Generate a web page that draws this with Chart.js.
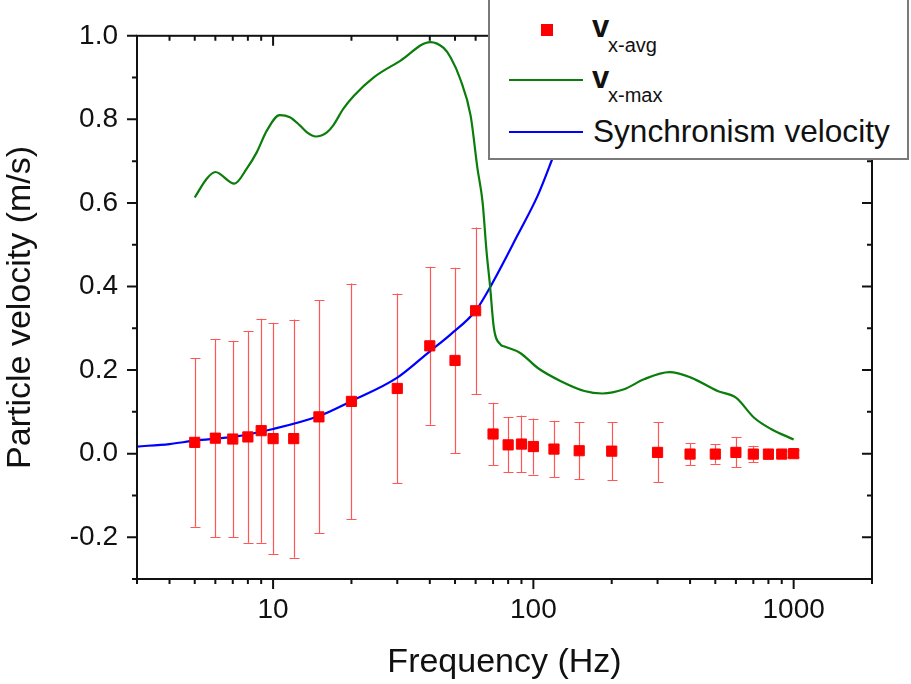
<!DOCTYPE html>
<html>
<head>
<meta charset="utf-8">
<script src="https://cdn.jsdelivr.net/npm/chart.js@4/dist/chart.umd.min.js"></script>
<style>
  html, body { margin: 0; padding: 0; background: #fff; }
  #wrap { position: relative; width: 911px; height: 684px; overflow: hidden; }
  canvas { position: absolute; left: 0; top: 0; }
  #legend { position: absolute; left: 488px; top: -2px; width: 421px; height: 162px;
            border: 2px solid #7a7a7a; background: #fff; box-sizing: border-box;
            font-family: "Liberation Sans", Arial, sans-serif; color: #111; }
  #legend div { position: absolute; line-height: 1; white-space: nowrap; }
  .mk { position: absolute; }
</style>
</head>
<body>
<div id="wrap">
  <canvas id="c" width="911" height="684"></canvas>
  <div id="legend">
    <div class="mk" style="left:51px;top:24px;width:12px;height:12px;background:#ff0000;"></div>
    <div style="left:102px;top:11px;font-size:31px;font-weight:bold;">v</div>
    <div style="left:118px;top:35px;font-size:20px;">x-avg</div>
    <div class="mk" style="left:19px;top:79px;width:74px;height:2px;background:#0a7d0a;"></div>
    <div style="left:102px;top:62px;font-size:31px;font-weight:bold;">v</div>
    <div style="left:118px;top:85px;font-size:20px;">x-max</div>
    <div class="mk" style="left:19px;top:131px;width:74px;height:2px;background:#0000ff;"></div>
    <div style="left:103px;top:116px;font-size:31.6px;">Synchronism velocity</div>
  </div>
</div>
<script>
// ---- data ----
const freqAvg = [5, 6, 7, 8, 9, 10, 12, 15, 20, 30, 40, 50, 60, 70, 80, 90, 100, 120, 150, 200, 300, 400, 500, 600, 700, 800, 900, 1000];
const vxAvg   = [0.027, 0.037, 0.035, 0.040, 0.055, 0.036, 0.036, 0.088, 0.125, 0.156, 0.258, 0.223, 0.342, 0.047, 0.021, 0.023, 0.017, 0.011, 0.007, 0.006, 0.003, -0.001, -0.001, 0.003, -0.001, -0.001, -0.001, 0.000];
const vxAvgErr = [0.202, 0.237, 0.235, 0.253, 0.268, 0.277, 0.285, 0.279, 0.282, 0.227, 0.189, 0.222, 0.199, 0.075, 0.066, 0.068, 0.067, 0.068, 0.068, 0.069, 0.072, 0.026, 0.023, 0.036, 0.020, 0.013, 0.008, 0.008];

const freqMax = [5, 5.56, 6.0, 7.1, 7.92, 8.65, 9.46, 10.6, 11.6, 12.7, 13.5, 14.6, 16.1, 17, 18.6, 20.4, 24.3, 30.8, 40.2, 45.2, 48.1, 52.4, 57.4, 61, 63.8, 66.1, 68.1, 70.5, 74.8, 77, 89, 104, 127, 157, 184, 223, 266, 333, 403, 510, 600, 705, 818, 1000];
const vxMax   = [0.613, 0.658, 0.674, 0.646, 0.682, 0.721, 0.773, 0.810, 0.805, 0.785, 0.769, 0.759, 0.769, 0.785, 0.825, 0.856, 0.900, 0.940, 0.985, 0.971, 0.948, 0.896, 0.809, 0.682, 0.602, 0.483, 0.404, 0.301, 0.261, 0.257, 0.241, 0.205, 0.174, 0.150, 0.144, 0.154, 0.178, 0.195, 0.182, 0.150, 0.134, 0.086, 0.059, 0.034];

const freqSync = [3, 4, 5, 7, 10, 15, 20, 30, 40, 48, 60, 69, 87, 104, 117, 140, 170];
const vSync    = [0.017, 0.023, 0.031, 0.040, 0.059, 0.090, 0.126, 0.182, 0.245, 0.285, 0.342, 0.404, 0.523, 0.618, 0.698, 0.830, 1.000];

const xTickLabels = [10, 100, 1000];
const xMinorTicks = [3, 4, 5, 6, 7, 8, 9, 20, 30, 40, 50, 60, 70, 80, 90, 200, 300, 400, 500, 600, 700, 800, 900, 2000];
const yTickLabels = [-0.2, 0.0, 0.2, 0.4, 0.6, 0.8, 1.0];
const yMinorTicks = [-0.3, -0.1, 0.1, 0.3, 0.5, 0.7, 0.9];

const FONT = '"Liberation Sans", Arial, sans-serif';
const TXT = '#111';

const toXY = (xs, ys) => xs.map((x, i) => ({ x: x, y: ys[i] }));

const errorBars = {
  id: 'errorBars',
  beforeDatasetsDraw(chart) {
    const xs = chart.scales.x, ys = chart.scales.y, ctx = chart.ctx;
    const a = chart.chartArea;
    ctx.save();
    ctx.beginPath(); ctx.rect(a.left, a.top, a.right - a.left, a.bottom - a.top); ctx.clip();
    ctx.strokeStyle = '#ff5555';
    ctx.lineWidth = 1.2;
    freqAvg.forEach((f, i) => {
      const px = Math.round(xs.getPixelForValue(f)) + 0.5;
      const y1 = ys.getPixelForValue(vxAvg[i] + vxAvgErr[i]);
      const y2 = ys.getPixelForValue(vxAvg[i] - vxAvgErr[i]);
      ctx.beginPath();
      ctx.moveTo(px, y1); ctx.lineTo(px, y2);
      ctx.moveTo(px - 5, Math.round(y1) + 0.5); ctx.lineTo(px + 5, Math.round(y1) + 0.5);
      ctx.moveTo(px - 5, Math.round(y2) + 0.5); ctx.lineTo(px + 5, Math.round(y2) + 0.5);
      ctx.stroke();
    });
    ctx.restore();
  }
};

const frame = {
  id: 'frame',
  afterDatasetsDraw(chart) {
    const xs = chart.scales.x, ys = chart.scales.y, ctx = chart.ctx;
    const a = chart.chartArea;
    ctx.save();
    ctx.strokeStyle = '#111';
    ctx.lineWidth = 2;
    ctx.strokeRect(a.left, a.top, a.right - a.left, a.bottom - a.top);
    const MAJ = 10, MIN = 5;
    ctx.beginPath();
    const xt = (v, len) => {
      const p = xs.getPixelForValue(v);
      ctx.moveTo(p, a.bottom); ctx.lineTo(p, a.bottom + len);
      ctx.moveTo(p, a.top); ctx.lineTo(p, a.top + len);
    };
    const yt = (v, len) => {
      const p = ys.getPixelForValue(v);
      ctx.moveTo(a.left, p); ctx.lineTo(a.left - len, p);
      ctx.moveTo(a.right, p); ctx.lineTo(a.right - len, p);
    };
    xTickLabels.forEach(v => xt(v, MAJ));
    xMinorTicks.forEach(v => xt(v, MIN));
    yTickLabels.forEach(v => yt(v, MAJ));
    yMinorTicks.forEach(v => yt(v, MIN));
    ctx.stroke();
    ctx.restore();
  }
};

new Chart(document.getElementById('c'), {
  type: 'scatter',
  data: {
    datasets: [
      {
        label: 'vx-avg',
        data: toXY(freqAvg, vxAvg),
        pointStyle: 'rect',
        pointRadius: 7.2,
        backgroundColor: '#ff0000',
        borderColor: '#ff0000',
        borderWidth: 1,
        showLine: false
      },
      {
        label: 'vx-max',
        data: toXY(freqMax, vxMax),
        showLine: true,
        borderColor: '#0a7d0a',
        borderWidth: 2.2,
        pointRadius: 0,
        cubicInterpolationMode: 'monotone'
      },
      {
        label: 'Synchronism velocity',
        data: toXY(freqSync, vSync),
        showLine: true,
        borderColor: '#0000ff',
        borderWidth: 2.2,
        pointRadius: 0,
        cubicInterpolationMode: 'monotone'
      }
    ]
  },
  options: {
    responsive: false,
    animation: false,
    devicePixelRatio: 1,
    layout: { padding: { left: 0, top: 33, right: 39, bottom: 0 } },
    plugins: { legend: { display: false }, tooltip: { enabled: false } },
    scales: {
      x: {
        type: 'logarithmic',
        min: 3, max: 2000,
        position: 'bottom',
        grid: { display: false, drawTicks: false },
        border: { display: false },
        afterBuildTicks: s => { s.ticks = xTickLabels.map(v => ({ value: v, major: true })); },
        afterFit: s => { s.height = 105; },
        ticks: {
          autoSkip: false, maxRotation: 0, padding: 14,
          color: TXT, font: { family: FONT, size: 28 },
          callback: v => String(v)
        },
        title: {
          display: true, text: 'Frequency (Hz)', color: TXT,
          font: { family: FONT, size: 34 }, padding: { top: 0, bottom: 1 }
        }
      },
      y: {
        type: 'linear',
        min: -0.3, max: 1.0,
        position: 'left',
        grid: { display: false, drawTicks: false },
        border: { display: false },
        afterBuildTicks: s => { s.ticks = yTickLabels.map(v => ({ value: v })); },
        afterFit: s => { s.width = 137; },
        ticks: {
          padding: 19, color: TXT, font: { family: FONT, size: 28 },
          callback: v => Number(v).toFixed(1)
        },
        title: {
          display: true, text: 'Particle velocity (m/s)', color: TXT,
          font: { family: FONT, size: 34 }, padding: { top: 0, bottom: 0 }
        }
      }
    }
  },
  plugins: [errorBars, frame]
});
</script>
</body>
</html>
